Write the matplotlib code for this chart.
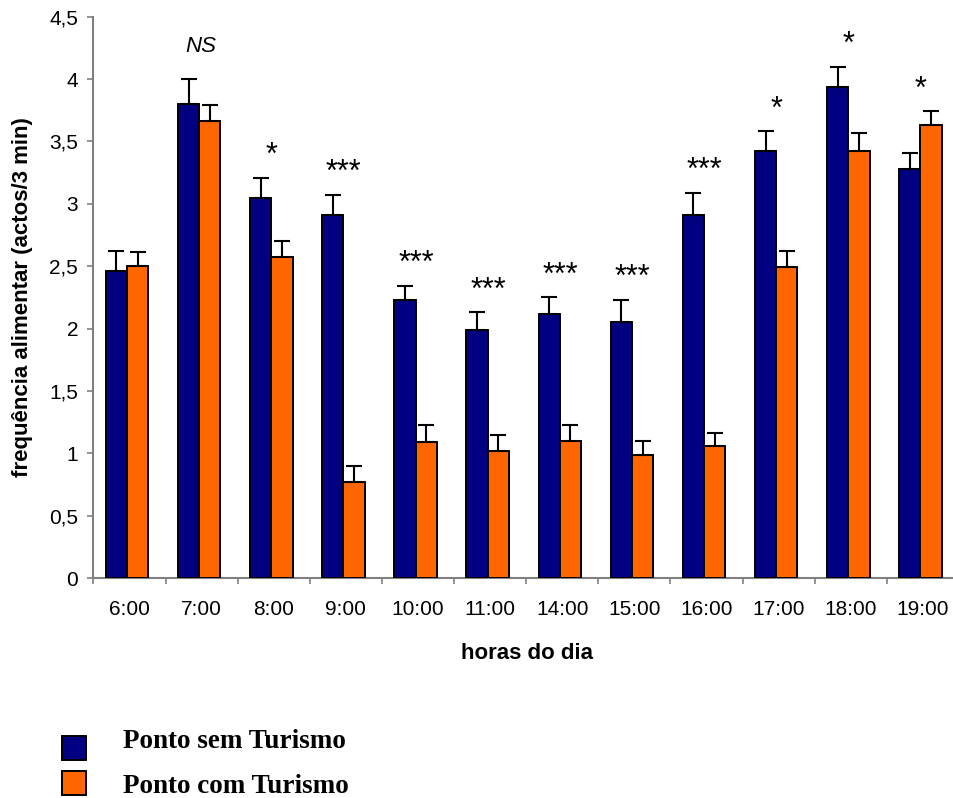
import matplotlib
matplotlib.use("Agg")
import matplotlib.pyplot as plt
import numpy as np
from matplotlib.patches import Rectangle

horas = ["6:00", "7:00", "8:00", "9:00", "10:00", "11:00", "14:00", "15:00",
         "16:00", "17:00", "18:00", "19:00"]
sem_turismo = [2.46, 3.80, 3.05, 2.91, 2.23, 1.99, 2.12, 2.05, 2.91, 3.42, 3.94, 3.28]
sem_erro = [0.16, 0.20, 0.16, 0.16, 0.11, 0.14, 0.13, 0.18, 0.18, 0.16, 0.16, 0.13]
com_turismo = [2.50, 3.66, 2.57, 0.77, 1.09, 1.02, 1.10, 0.99, 1.06, 2.49, 3.42, 3.63]
com_erro = [0.11, 0.13, 0.13, 0.13, 0.14, 0.13, 0.13, 0.11, 0.10, 0.13, 0.15, 0.11]
signif = ["", "NS", "*", "***", "***", "***", "***", "***", "***", "*", "*", "*"]
series_names = ["Ponto sem Turismo", "Ponto com Turismo"]
yticks = [0, 0.5, 1, 1.5, 2, 2.5, 3, 3.5, 4, 4.5]
ytick_labels = ["0", "0,5", "1", "1,5", "2", "2,5", "3", "3,5", "4", "4,5"]

BLUE = "#000080"
ORANGE = "#FF6600"
SANS = ["Liberation Sans", "DejaVu Sans"]
SERIF = ["Liberation Serif", "DejaVu Serif"]

W, H = 954, 798
fig = plt.figure(figsize=(W / 100, H / 100), dpi=100)
ax_left, ax_right, ax_top, ax_bottom = 93.5, 959.0, 16.7, 578.0
ax = fig.add_axes([ax_left / W, 1 - ax_bottom / H, (ax_right - ax_left) / W,
                   (ax_bottom - ax_top) / H])

x = np.arange(len(horas))
w = 0.295
shift = -0.035
ekw = dict(elinewidth=1.5, capthick=1.5, ecolor="black")
ax.bar(x + shift - w / 2, sem_turismo, w, color=BLUE, edgecolor="black", linewidth=1.4,
       yerr=[np.zeros(len(x)), sem_erro], capsize=5.6, error_kw=ekw, zorder=3)
ax.bar(x + shift + w / 2, com_turismo, w, color=ORANGE, edgecolor="black", linewidth=1.4,
       yerr=[np.zeros(len(x)), com_erro], capsize=5.6, error_kw=ekw, zorder=3)

# significance markers
for i, s in enumerate(signif):
    if not s:
        continue
    top = max(sem_turismo[i] + sem_erro[i], com_turismo[i] + com_erro[i])
    if s == "NS":
        ax.text(i - 0.01, top + 0.22, s, ha="center", va="baseline", fontsize=16,
                style="italic", family=SANS)
    else:
        ax.text(i - 0.03, top + 0.11, s, ha="center", va="baseline", fontsize=22,
                family=SANS)

ax.set_xlim(-0.5, len(horas) - 0.5)
ax.set_ylim(0, 4.5)
ax.set_yticks(yticks)
ax.set_yticklabels(ytick_labels, family=SANS, fontsize=15)

ax.set_xticks(np.arange(len(horas) + 1) - 0.5)
ax.set_xticklabels([])
ax.set_xticks(x, minor=True)
ax.set_xticklabels(horas, minor=True, family=SANS, fontsize=15)
ax.tick_params(axis="x", which="minor", length=0, pad=16)
ax.tick_params(axis="x", which="major", length=4.5, width=1.2, color="#808080", direction="out")
ax.tick_params(axis="y", length=4, width=1.2, color="#808080", direction="out", pad=7)

for sp in ["top", "right"]:
    ax.spines[sp].set_visible(False)
for sp in ["left", "bottom"]:
    ax.spines[sp].set_color("#808080")
    ax.spines[sp].set_linewidth(1.5)

ax.set_ylabel("frequência alimentar (actos/3 min)", family=SANS, fontsize=16,
              fontweight="bold")
ax.yaxis.set_label_coords((33 - ax_left) / (ax_right - ax_left), 0.5)
ax.set_xlabel("horas do dia", family=SANS, fontsize=16, fontweight="bold")
ax.xaxis.set_label_coords((527.5 - ax_left) / (ax_right - ax_left),
                          (ax_bottom - 643) / (ax_bottom - ax_top))

# legend (below the chart)
for k, (name, col) in enumerate(zip(series_names, [BLUE, ORANGE])):
    sq_top = [736, 771][k]
    base = [748, 793][k]
    fig.add_artist(Rectangle((62 / W, 1 - (sq_top + 24) / H), 24 / W, 24 / H,
                             transform=fig.transFigure, facecolor=col,
                             edgecolor="black", linewidth=1.4))
    fig.text(123 / W, 1 - base / H, name, ha="left", va="baseline",
             family=SERIF, fontweight="bold", fontsize=19.5)

fig.savefig("out.png", dpi=100)
